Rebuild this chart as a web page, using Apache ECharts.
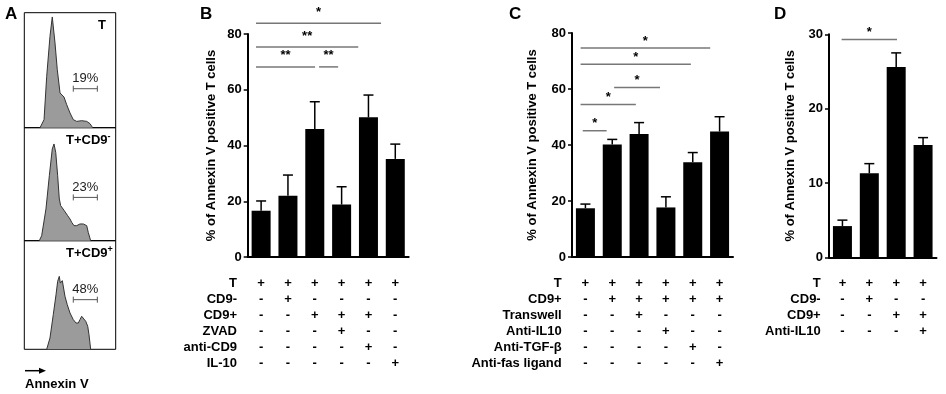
<!DOCTYPE html>
<html>
<head>
<meta charset="utf-8">
<script src="https://cdn.jsdelivr.net/npm/echarts@6/dist/echarts.min.js"></script>
<style>
html, body { margin: 0; padding: 0; background: #fff; }
#chart { width: 946px; height: 394px; }
</style>
</head>
<body>
<div id="chart"></div>
<script>
// panel A: flow histograms, intensity (0-100 of box width) vs. count (0-100 of box height)
var histT = [[17.2,0],[21.6,7],[24.5,44.6],[28.1,79.4],[30.6,96.3],[33.6,73.7],[36.1,50.4],[39.1,30.2],[40.9,28.7],[43.4,26.7],[46.4,20],[50,12.8],[53.6,7],[57.3,5.5],[62.8,6.1],[68.3,5.5],[71.9,3.5],[74.8,0]];
var histNeg = [[16.4,0],[19,4.4],[23.7,28.1],[27.4,57.5],[30.6,81.2],[32.5,85.6],[34.4,78.1],[36.5,57.5],[38.3,36.9],[39.8,31],[41.6,29.5],[43.8,26.5],[45.6,25],[47.5,22.1],[50,19.2],[51.9,16.2],[54.4,13.3],[57.3,13.3],[60.9,14.8],[64.6,14.8],[68.3,13.3],[70,7.3],[72.6,0]];
var histPos = [[24.5,0],[28.1,10.4],[31.7,31.9],[34.7,50.3],[36.5,62.6],[38.3,67.2],[39.4,61],[41.6,63.2],[44.5,48.8],[47,41.1],[50,33.4],[53.6,27.3],[56.6,24.2],[59.1,24.2],[60.9,27.3],[62.8,30.4],[64.6,28.8],[67.2,25.8],[69.4,21.2],[70.8,13.4],[72.6,0]];
var gateRange = [53.6, 79.9];
var gateLevels = [33.9, 38.3, 45.7];
var gateLabels = ['19%', '23%', '48%'];

// panels B, C, D: mean and SEM
var catsB = ['1', '2', '3', '4', '5', '6'];
var meanB = [16.6, 22, 45.9, 18.8, 50.1, 35.2];
var errB = [3.5, 7.4, 9.8, 6.4, 8, 5.3];
var catsC = ['1', '2', '3', '4', '5', '6'];
var meanC = [17.4, 40.2, 43.9, 17.7, 33.8, 44.8];
var errC = [1.5, 1.8, 4.1, 3.8, 3.5, 5.3];
var catsD = ['1', '2', '3', '4'];
var meanD = [4.2, 11.3, 25.6, 15.1];
var errD = [0.8, 1.3, 1.9, 1.0];

// significance brackets: [from category, to category, level, stars]
var bracketsB = [[-0.19, 4.47, 83.9, '*'], [-0.19, 3.62, 75.3, '**'], [-0.19, 2.01, 68.2, '**'], [2.16, 2.87, 68.2, '**']];
var bracketsC = [[-0.18, 4.65, 74.6, '*'], [-0.18, 3.93, 68.8, '*'], [1.07, 2.78, 60.5, '*'], [-0.18, 1.88, 54.5, '*'], [-0.10, 0.79, 45.1, '*']];
var bracketsD = [[-0.03, 2.03, 29.3, '*']];

// treatment tables under the bars
var rowsB = ['T', 'CD9-', 'CD9+', 'ZVAD', 'anti-CD9', 'IL-10'];
var signsB = ['++++++', '-+----', '--+++-', '---+--', '----+-', '-----+'];
var rowsC = ['T', 'CD9+', 'Transwell', 'Anti-IL10', 'Anti-TGF-\u03b2', 'Anti-fas ligand'];
var signsC = ['++++++', '-+++++', '--+---', '---+--', '----+-', '-----+'];
var rowsD = ['T', 'CD9-', 'CD9+', 'Anti-IL10'];
var signsD = ['++++', '-+--', '--++', '---+'];

var chart = echarts.init(document.getElementById('chart'));
var FONT = 'Liberation Sans, Arial, sans-serif';

function histGrid(top, height) {
    return { left: 24.3, top: top, width: 91.4, height: height, show: true, borderColor: '#000', borderWidth: 1 };
}

function barXAxis(idx, cats, signs) {
    return {
        type: 'category', gridIndex: idx, data: cats,
        axisLine: { lineStyle: { color: '#000', width: 2 } },
        axisTick: { show: false },
        axisLabel: {
            margin: 18, color: '#000', fontFamily: FONT, fontWeight: 'bold', fontSize: 13, lineHeight: 16,
            formatter: function (v, i) {
                return signs.map(function (s) { return s.charAt(i); }).join('\n');
            }
        }
    };
}

function barYAxis(idx, max, interval, gap) {
    return {
        type: 'value', gridIndex: idx, min: 0, max: max, interval: interval,
        name: '% of Annexin V positive T cells', nameLocation: 'middle', nameGap: gap,
        nameTextStyle: { color: '#000', fontFamily: FONT, fontWeight: 'bold', fontSize: 13 },
        axisLine: { show: true, lineStyle: { color: '#000', width: 2 } },
        axisTick: { show: true, length: 4, lineStyle: { color: '#000', width: 1.5 } },
        axisLabel: { margin: 6, color: '#000', fontFamily: FONT, fontWeight: 'bold', fontSize: 13 },
        splitLine: { show: false }
    };
}

function histSeries(idx, data, gi) {
    return [{
        type: 'line', xAxisIndex: idx, yAxisIndex: idx, data: data,
        symbol: 'none', silent: true,
        lineStyle: { color: '#333', width: 1 },
        areaStyle: { color: '#9b9b9b', opacity: 1 }
    }, {
        type: 'custom', xAxisIndex: idx, yAxisIndex: idx, data: [[gateRange[0], gateLevels[gi]]],
        renderItem: function (params, api) {
            var a = api.coord([gateRange[0], gateLevels[gi]]);
            var b = api.coord([gateRange[1], gateLevels[gi]]);
            var st = { stroke: '#555', lineWidth: 1 };
            return { type: 'group', children: [
                { type: 'line', shape: { x1: a[0], y1: a[1], x2: b[0], y2: b[1] }, style: st },
                { type: 'line', shape: { x1: a[0], y1: a[1] - 3, x2: a[0], y2: a[1] + 3 }, style: st },
                { type: 'line', shape: { x1: b[0], y1: b[1] - 3, x2: b[0], y2: b[1] + 3 }, style: st },
                { type: 'text', style: { text: gateLabels[gi], x: (a[0] + b[0]) / 2, y: a[1] - 10,
                    textAlign: 'center', textVerticalAlign: 'middle', fill: '#222', font: '13px ' + FONT } }
            ] };
        }
    }];
}

function barSeries(idx, mean, err, brackets, starGap) {
    return [{
        type: 'bar', xAxisIndex: idx, yAxisIndex: idx, data: mean, barWidth: 19,
        itemStyle: { color: '#000' }, silent: true
    }, {
        type: 'custom', xAxisIndex: idx, yAxisIndex: idx,
        data: mean.map(function (m, i) { return [i, m, m + err[i]]; }),
        encode: { x: 0, y: 1 },
        renderItem: function (params, api) {
            var p0 = api.coord([api.value(0), api.value(1)]);
            var p1 = api.coord([api.value(0), api.value(2)]);
            var st = { stroke: '#000', lineWidth: 1.5 };
            return { type: 'group', children: [
                { type: 'line', shape: { x1: p0[0], y1: p0[1], x2: p1[0], y2: p1[1] }, style: st },
                { type: 'line', shape: { x1: p1[0] - 5, y1: p1[1], x2: p1[0] + 5, y2: p1[1] }, style: st }
            ] };
        }
    }, {
        type: 'custom', xAxisIndex: idx, yAxisIndex: idx, clip: false,
        data: brackets.map(function (b) { return [0, b[2]]; }),
        encode: { x: 0, y: 1 },
        renderItem: function (params, api) {
            var b = brackets[params.dataIndex];
            var base = api.coord([0, b[2]]);
            var band = api.size([1, 0])[0];
            var x1 = base[0] + b[0] * band, x2 = base[0] + b[1] * band;
            return { type: 'group', children: [
                { type: 'line', shape: { x1: x1, y1: base[1], x2: x2, y2: base[1] }, style: { stroke: '#777', lineWidth: 1.5 } },
                { type: 'text', style: { text: b[3], x: (x1 + x2) / 2, y: base[1] - starGap,
                    textAlign: 'center', textVerticalAlign: 'middle', fill: '#000', font: 'bold 13px ' + FONT } }
            ] };
        }
    }];
}

function rowText(right, rows) {
    return { type: 'text', style: { text: rows.join('\n'), x: right, y: 275, textAlign: 'right', textVerticalAlign: 'top',
        fill: '#000', font: 'bold 13px ' + FONT, lineHeight: 16 } };
}

function letter(x, t) {
    return { type: 'text', style: { text: t, x: x, y: 6, fill: '#000', font: 'bold 17px ' + FONT } };
}

var supRich = {
    b: { fontFamily: FONT, fontWeight: 'bold', fontSize: 13, color: '#000' },
    s: { fontFamily: FONT, fontWeight: 'bold', fontSize: 9, color: '#000', verticalAlign: 'top', padding: [0, 0, 6, 0] }
};

var option = {
    animation: false,
    backgroundColor: '#fff',
    grid: [
        histGrid(12.7, 115), histGrid(127.7, 113), histGrid(240.7, 108.6),
        { left: 247.7, top: 34, width: 161, height: 223 },
        { left: 572, top: 33, width: 161, height: 224 },
        { left: 829, top: 34.3, width: 107.5, height: 223 }
    ],
    xAxis: [
        { type: 'value', gridIndex: 0, min: 0, max: 100, show: false },
        { type: 'value', gridIndex: 1, min: 0, max: 100, show: false },
        { type: 'value', gridIndex: 2, min: 0, max: 100, show: false },
        barXAxis(3, catsB, signsB),
        barXAxis(4, catsC, signsC),
        barXAxis(5, catsD, signsD)
    ],
    yAxis: [
        { type: 'value', gridIndex: 0, min: 0, max: 100, show: false },
        { type: 'value', gridIndex: 1, min: 0, max: 100, show: false },
        { type: 'value', gridIndex: 2, min: 0, max: 100, show: false },
        barYAxis(3, 80, 20, 30),
        barYAxis(4, 80, 20, 33),
        barYAxis(5, 30, 10, 32)
    ],
    series: [].concat(
        histSeries(0, histT, 0), histSeries(1, histNeg, 1), histSeries(2, histPos, 2),
        barSeries(3, meanB, errB, bracketsB, 11),
        barSeries(4, meanC, errC, bracketsC, 7),
        barSeries(5, meanD, errD, bracketsD, 7)
    ),
    graphic: [
        letter(5, 'A'), letter(200, 'B'), letter(509, 'C'), letter(774, 'D'),
        { type: 'text', style: { text: 'T', x: 102, y: 25, textAlign: 'center', textVerticalAlign: 'middle', fill: '#000', font: 'bold 13px ' + FONT } },
        { type: 'text', style: { text: '{b|T+CD9}{s|-}', x: 66, y: 140, textVerticalAlign: 'middle', rich: supRich } },
        { type: 'text', style: { text: '{b|T+CD9}{s|+}', x: 66, y: 253, textVerticalAlign: 'middle', rich: supRich } },
        { type: 'line', shape: { x1: 25, y1: 370.7, x2: 43, y2: 370.7 }, style: { stroke: '#000', lineWidth: 1.5 } },
        { type: 'polygon', shape: { points: [[46, 370.7], [39, 367.7], [39, 373.7]] }, style: { fill: '#000' } },
        { type: 'text', style: { text: 'Annexin V', x: 25, y: 384, textVerticalAlign: 'middle', fill: '#000', font: 'bold 13px ' + FONT } },
        rowText(237, rowsB), rowText(561.7, rowsC), rowText(820.7, rowsD)
    ]
};
chart.setOption(option);
</script>
</body>
</html>
